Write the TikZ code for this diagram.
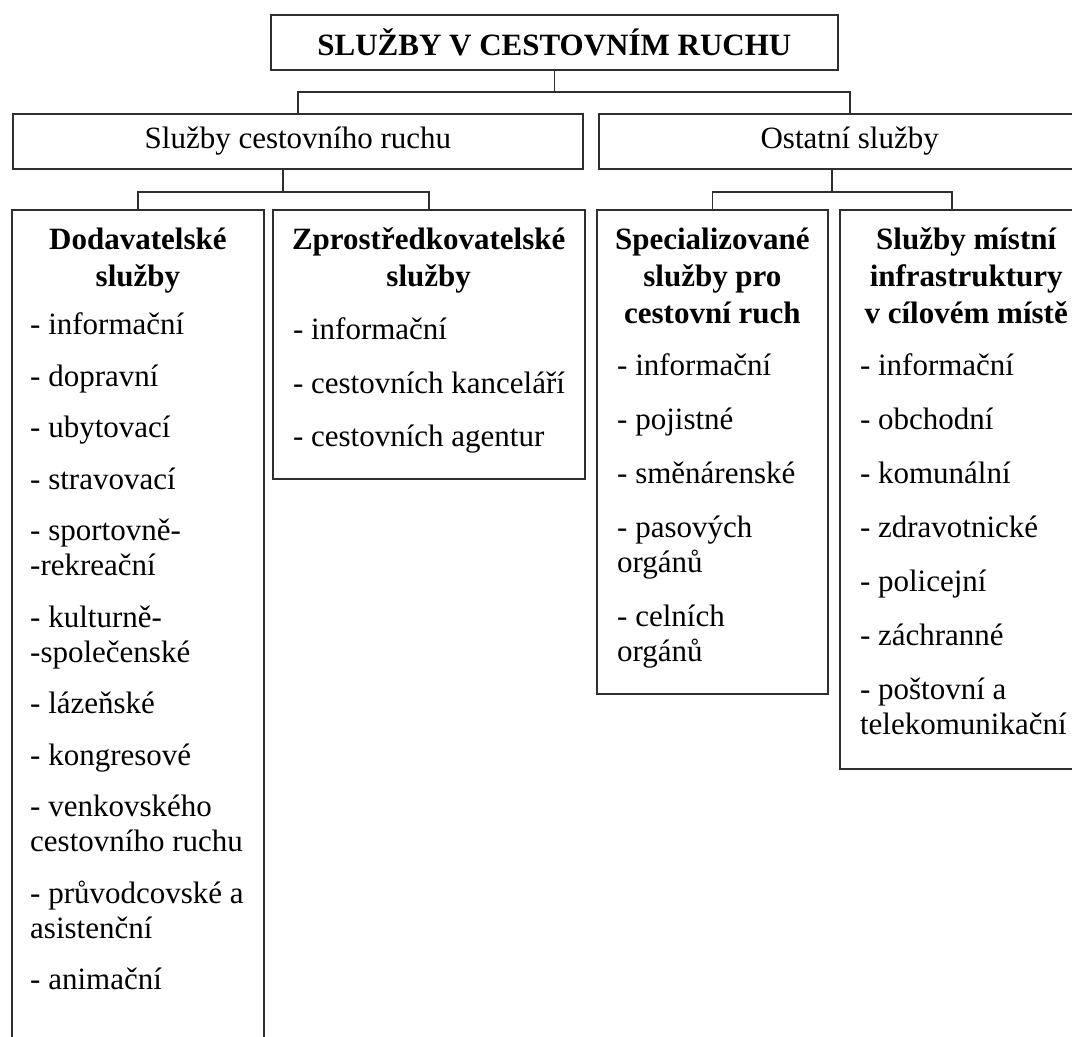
\documentclass[tikz,border=0pt]{standalone}
\usepackage{xcolor}
\usepackage{fontspec}
\setmainfont{Liberation Serif}
\usepackage{tikz}
\usetikzlibrary{positioning, calc}

\definecolor{linegray}{HTML}{2E2E2E}

\begin{document}
\begin{tikzpicture}[
  x=1pt, y=1pt,
  box/.style={rectangle, draw=linegray, line width=1.8pt, inner sep=0pt, align=center, font=\fontsize{31}{36}\selectfont},
  head/.style={inner sep=0pt, align=center, font=\fontsize{31}{37}\selectfont\bfseries},
  list/.style={inner sep=0pt, align=left, font=\fontsize{31}{35}\selectfont},
  conn/.style={draw=linegray, line width=1.8pt},
]
\clip (0,0) rectangle (1072,-1037);

% top levels
\node[box, font=\fontsize{31}{36}\selectfont\bfseries, minimum width=567pt, minimum height=55pt, anchor=north west] (title) at (270,-14) {SLUŽBY V CESTOVNÍM RUCHU};
\node[box, minimum width=570pt, minimum height=55pt, anchor=north west] (svc) at (12,-113) {Služby cestovního ruchu};
\node[box, minimum width=502pt, minimum height=55pt, right=14pt of svc.north east, anchor=north west] (ost) {Ostatní služby};

% third level boxes
\node[box, minimum width=252pt, minimum height=840pt, anchor=north west] (dod) at (11,-209) {};
\node[box, minimum width=312pt, minimum height=269pt, right=7pt of dod.north east, anchor=north west] (zpr) {};
\node[box, minimum width=231pt, minimum height=484pt, anchor=north west] (spec) at (596,-209) {};
\node[box, minimum width=253pt, minimum height=559pt, right=10pt of spec.north east, anchor=north west] (mist) {};

% texts inside
\node[head, below=18.5pt of dod.north] (dodh) {Dodavatelské\\služby};
\node[list, below right=103.7pt and 19pt of dod.north west] (dodl) {- informační\\[16.5pt]
  - dopravní\\[16.5pt]
  - ubytovací\\[16.5pt]
  - stravovací\\[16.5pt]
  - sportovně-\\-rekreační\\[16.5pt]
  - kulturně-\\-společenské\\[16.5pt]
  - lázeňské\\[16.5pt]
  - kongresové\\[16.5pt]
  - venkovského\\cestovního ruchu\\[16.5pt]
  - průvodcovské a\\asistenční\\[16.5pt]
  - animační};

\node[head, below=18.5pt of zpr.north] (zprh) {Zprostředkovatelské\\služby};
\node[list, below right=108.7pt and 21pt of zpr.north west] (zprl) {- informační\\[18.5pt]
  - cestovních kanceláří\\[18.5pt]
  - cestovních agentur};

\node[head, below=18.5pt of spec.north] (spech) {Specializované\\služby pro\\cestovní ruch};
\node[list, below right=144.7pt and 21pt of spec.north west] (specl) {- informační\\[19pt]
  - pojistné\\[19pt]
  - směnárenské\\[19pt]
  - pasových\\orgánů\\[19pt]
  - celních\\orgánů};

\node[head, below=18.5pt of mist.north] (misth) {Služby místní\\infrastruktury\\v cílovém místě};
\node[list, below right=144.7pt and 21pt of mist.north west] (mistl) {- informační\\[19pt]
  - obchodní\\[19pt]
  - komunální\\[19pt]
  - zdravotnické\\[19pt]
  - policejní\\[19pt]
  - záchranné\\[19pt]
  - poštovní a\\telekomunikační};

% connectors
\draw[conn] (title.south) -- ++(0,-21) coordinate (j1);
\draw[conn] (svc.north) |- (j1) -| (ost.north);

\coordinate (j2) at ($(dod.north)!.5!(zpr.north)+(0,17)$);
\draw[conn] (dod.north) |- (j2) -| (zpr.north);
\draw[conn] (j2) -- (j2 |- svc.south);

\coordinate (k4) at ([xshift=113pt]mist.north west);
\coordinate (j3) at ($(spec.north)!.5!(k4)+(0,17)$);
\draw[conn] (spec.north) |- (j3) -| (k4);
\draw[conn] (j3) -- (j3 |- ost.south);
\end{tikzpicture}
\end{document}
